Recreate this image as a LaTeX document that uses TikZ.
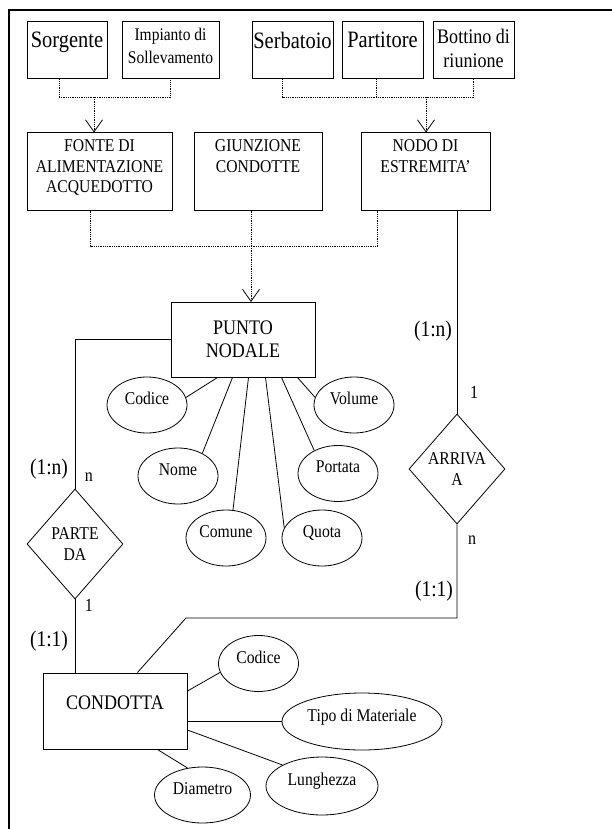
\documentclass[tikz,border=0pt]{standalone}
\usepackage{fontspec}
\setmainfont{Liberation Serif}[FakeStretch=0.87]
\usetikzlibrary{shapes.geometric,arrows.meta}
\tikzset{
  ent/.style={draw, rectangle, inner sep=0pt, line width=1pt},
  toptext/.style={anchor=north, align=center, inner sep=2pt},
  rel/.style={draw, diamond, aspect=0.87, inner sep=0pt, line width=0.8pt,
    minimum width=96pt, minimum height=110pt, align=center},
  attr/.style={draw, ellipse, inner sep=0pt, line width=0.8pt,
    minimum width=80pt, minimum height=56pt, text depth=13pt},
  isa/.style={densely dotted, line width=0.8pt},
  isatip/.style={isa, -{Straight Barb[length=12pt, width=17pt, line width=0.8pt]}},
  card/.style={font=\fontsize{22.4}{24}\selectfont},
  side/.style={font=\fontsize{18.4}{20}\selectfont},
  big/.style={font=\fontsize{20.7}{23}\selectfont}
}
\begin{document}
\begin{tikzpicture}[x=1pt, y=-1pt, line width=0.8pt,
  font=\fontsize{18}{20.5}\selectfont]
\useasboundingbox (0,0) rectangle (612,829);
% cornice
\draw[line width=1.2pt] (612,10) -- (9,10) -- (9,829);

% sottotipi in alto
\node[ent, minimum width=80, minimum height=57,
  label={[toptext, yshift=-8pt, font=\fontsize{23.5}{24}\selectfont]north:Sorgente}] (sorg) at (67,50.5) {};
\node[ent, minimum width=97, minimum height=57,
  label={[toptext, yshift=-4pt, font=\fontsize{17.8}{23}\selectfont]north:Impianto di\\Sollevamento}] (imp) at (170.5,50.5) {};
\node[ent, minimum width=81, minimum height=57,
  label={[toptext, yshift=-8pt, font=\fontsize{23.5}{24}\selectfont]north:Serbatoio}] (serb) at (292.5,50.5) {};
\node[ent, minimum width=81, minimum height=57,
  label={[toptext, yshift=-8pt, font=\fontsize{23.5}{24}\selectfont]north:Partitore}] (part) at (382.5,50.5) {};
\node[ent, minimum width=81, minimum height=57,
  label={[toptext, yshift=-5pt, font=\fontsize{20.7}{24}\selectfont]north:Bottino di\\riunione}] (bott) at (473.5,50.5) {};

% tipi di nodo
\node[ent, minimum width=145, minimum height=77,
  label={[toptext, yshift=-5pt]north:FONTE DI\\ALIMENTAZIONE\\ACQUEDOTTO}] (fonte) at (99.5,171.5) {};
\node[ent, minimum width=128, minimum height=77,
  label={[toptext, yshift=-5pt]north:GIUNZIONE\\CONDOTTE}] (giun) at (258,171.5) {};
\node[ent, minimum width=129, minimum height=77,
  label={[toptext, yshift=-5pt]north:NODO DI\\ESTREMITA'}] (nodo) at (425.5,171.5) {};

% generalizzazioni
\coordinate (j1) at (94,97);
\coordinate (j2) at (426,97);
\coordinate (j3) at (251,246);
\draw[isa] ([xshift=-8pt]sorg.south) -- ++(0,18) -| (imp.south);
\draw[isatip] (j1) -- (j1 |- fonte.north);
\draw[isa] ([xshift=-10pt]serb.south) -- ++(0,18) -| (bott.south);
\draw[isa] ([xshift=-6pt]part.south) -- ++(0,18);
\draw[isatip] (j2) -- (j2 |- nodo.north);
\draw[isa] ([xshift=-9pt]fonte.south) -- ++(0,36) -| ([xshift=-48pt]nodo.south);
\draw[isa] ([xshift=-7pt]giun.south) -- (j3);
\draw[isatip] (j3) -- ++(0,56);

% entita'
\node[ent, big, minimum width=144, minimum height=75, align=center] (pn) at (243,339.5) {PUNTO\\NODALE};
\node[ent, big, minimum width=144, minimum height=76, text depth=17pt] (cond) at (115,711) {CONDOTTA};

% relazioni
\node[rel] (parte) at (75,544) {PARTE\\DA};
\node[rel] (arriva) at (457,469) {ARRIVA\\A};
\coordinate (bend) at (186,618);
\draw (pn.west) -| (parte.north);
\draw (parte.south) -- (parte.south |- cond.north);
\draw (arriva.north |- nodo.south) -- (arriva.north);
\draw (arriva.south) |- (bend) -- ([xshift=95pt]cond.north west);

% cardinalita'
\node[card] (c1) at (49,469) {(1:n)};
\node[side] (c2) at (89,477) {n};
\node[side] (c3) at (89,605) {1};
\node[card] (c4) at (49,641) {(1:1)};
\node[card] (c5) at (433,331) {(1:n)};
\node[side] (c6) at (474,392) {1};
\node[side] (c7) at (472,540) {n};
\node[card] (c8) at (434,591) {(1:1)};

% attributi punto nodale
\node[attr] (pCod) at (147,405) {Codice};
\node[attr] (pVol) at (354,405) {Volume};
\node[attr] (pNom) at (178,476) {Nome};
\node[attr] (pPor) at (338,473.5) {Portata};
\node[attr] (pCom) at (226,538) {Comune};
\node[attr] (pQuo) at (322,538) {Quota};
\draw (pCod.11) -- ([xshift=47pt]pn.south west);
\draw (pNom.43) -- ([xshift=62pt]pn.south west);
\draw (pCom.76) -- ([xshift=78pt]pn.south west);
\draw (pQuo.165) -- ([xshift=95pt]pn.south west);
\draw (pPor.136) -- ([xshift=111pt]pn.south west);
\draw (pVol.169) -- ([xshift=127pt]pn.south west);

% attributi condotta
\node[attr] (cCod) at (258.5,663.5) {Codice};
\node[attr, minimum width=160, minimum height=57] (cTipo) at (362,721.5) {Tipo di Materiale};
\node[attr, minimum width=112, minimum height=58] (cLun) at (322,786) {Lunghezza};
\node[attr, minimum width=96] (cDia) at (202.5,795) {Diametro};
\draw ([yshift=20pt]cond.east) -- (cCod.193);
\draw (cTipo.west -| cond.east) -- (cTipo.west);
\draw ([yshift=-19pt]cond.east) -- (cLun.152);
\draw ([xshift=-30pt]cond.south east) -- (cDia.119);

\end{tikzpicture}
\end{document}
